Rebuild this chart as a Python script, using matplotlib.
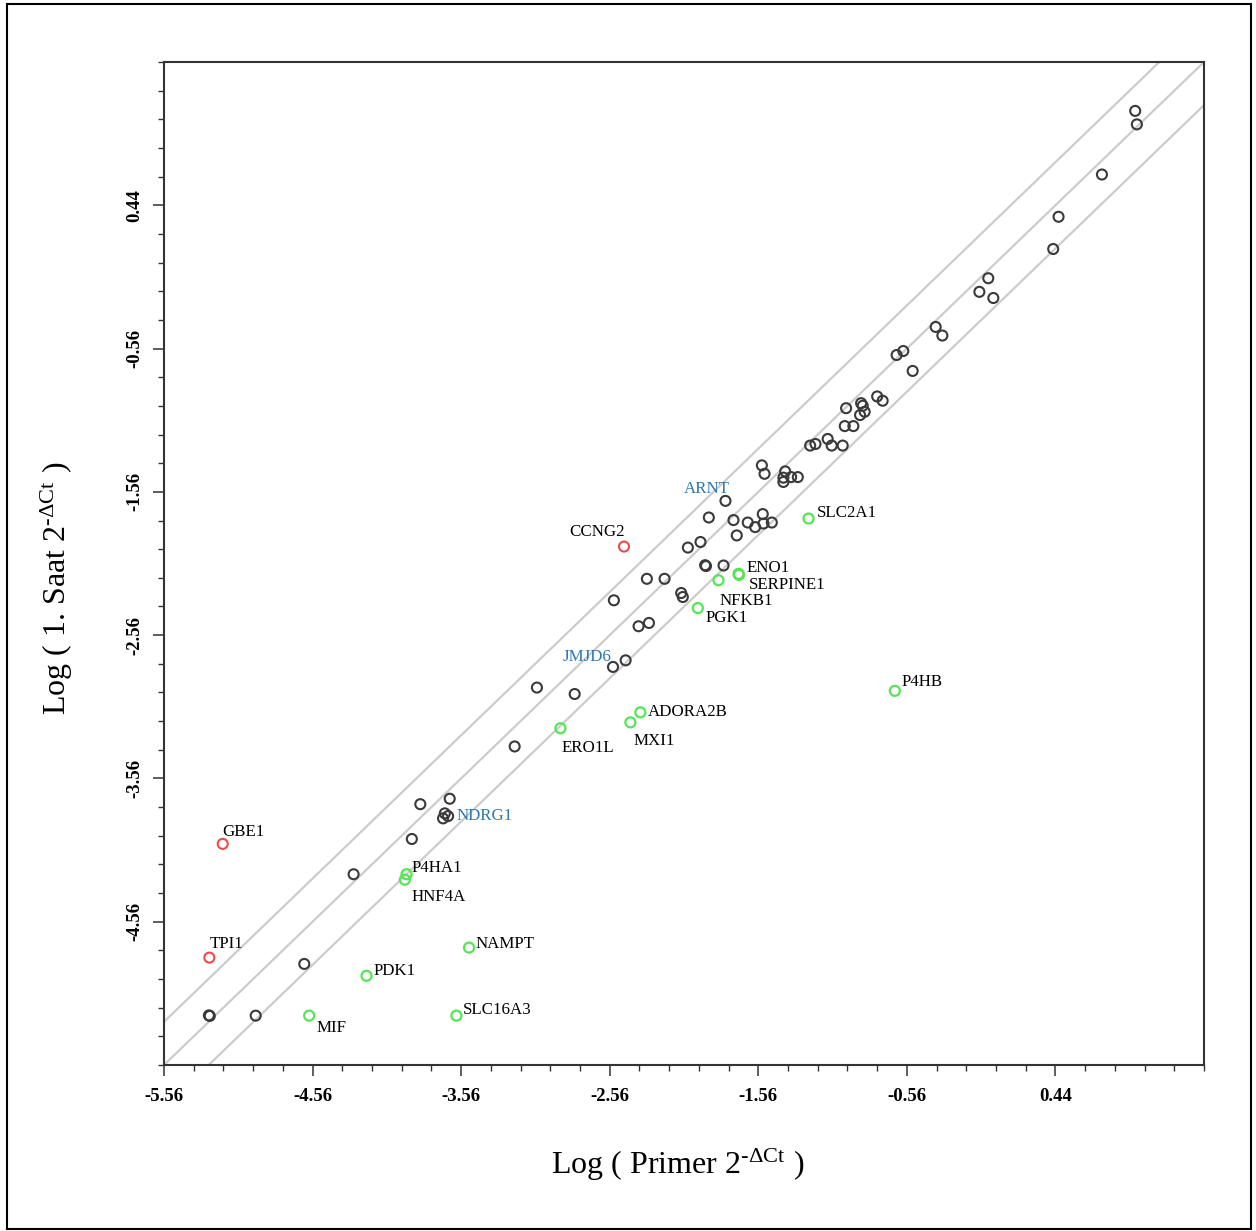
import numpy as np
import matplotlib
matplotlib.use("Agg")
import matplotlib.pyplot as plt
from matplotlib.patches import Rectangle
from matplotlib.ticker import FixedLocator, MultipleLocator


# unlabelled genes (open dark circles)
black_x = [0.977, 0.988, 0.753, 0.461, 0.425, -0.012, -0.072, 0.022, -0.366, -0.321,
           -0.629, -0.584, -0.521, -0.760, -0.723, -0.969, -0.868, -0.857, -0.875, -0.844,
           -0.978, -0.920, -1.093, -1.066, -0.992, -1.211, -1.175, -1.536, -1.518, -1.379,
           -1.391, -1.391, -1.339, -1.294, -1.893, -1.727, -1.631, -1.581, -1.530, -1.525,
           -1.469, -1.705, -1.949, -2.034, -1.918, -1.912, -1.794, -2.310, -2.191, -2.532,
           -2.079, -2.068, -2.366, -2.296, -2.453, -3.050, -2.796, -3.200, -3.637, -3.835,
           -3.670, -3.682, -3.892, -4.284, -4.616, -5.258, -5.252, -4.943]
black_y = [1.099, 1.005, 0.655, 0.360, 0.135, -0.069, -0.164, -0.207, -0.409, -0.469,
           -0.605, -0.577, -0.716, -0.894, -0.924, -0.976, -0.941, -0.959, -1.024, -1.001,
           -1.101, -1.101, -1.191, -1.237, -1.237, -1.237, -1.226, -1.375, -1.434, -1.417,
           -1.461, -1.491, -1.457, -1.457, -1.739, -1.757, -1.774, -1.806, -1.715, -1.781,
           -1.774, -1.864, -1.910, -1.949, -2.072, -2.078, -2.074, -2.167, -2.167, -2.317,
           -2.266, -2.294, -2.498, -2.475, -2.736, -2.926, -2.971, -3.337, -3.702, -3.740,
           -3.804, -3.839, -3.983, -4.229, -4.855, -5.214, -5.218, -5.216]

# labelled genes drawn as dark circles, names in blue
blue_genes = ["ARNT", "JMJD6", "NDRG1"]
blue_x = [-1.781, -2.538, -3.648]
blue_y = [-1.623, -2.782, -3.823]

# up in the 1st hour
red_genes = ["CCNG2", "GBE1", "TPI1"]
red_x = [-2.464, -5.165, -5.255]
red_y = [-1.942, -4.017, -4.811]

# down in the 1st hour
green_genes = ["SLC2A1", "ENO1", "SERPINE1", "NFKB1", "PGK1", "P4HB", "ADORA2B", "MXI1",
               "ERO1L", "P4HA1", "HNF4A", "NAMPT", "PDK1", "MIF", "SLC16A3"]
green_x = [-1.222, -1.693, -1.690, -1.828, -1.967, -0.641, -2.354, -2.421,
           -2.892, -3.928, -3.939, -3.507, -4.197, -4.583, -3.592]
green_y = [-1.746, -2.132, -2.140, -2.177, -2.371, -2.949, -3.099, -3.169,
           -3.210, -4.229, -4.267, -4.741, -4.938, -5.216, -5.216]

x_ticks = [-5.56, -4.56, -3.56, -2.56, -1.56, -0.56, 0.44]
x_tick_labels = ["-5.56", "-4.56", "-3.56", "-2.56", "-1.56", "-0.56", "0.44"]
y_ticks = [-4.56, -3.56, -2.56, -1.56, -0.56, 0.44]
y_tick_labels = ["-4.56", "-3.56", "-2.56", "-1.56", "-0.56", "0.44"]

# label placement: offset in pixels from the point, horizontal alignment
label_pos = {
    "ARNT": (-19, 14, "center"), "JMJD6": (-2, 12, "right"), "NDRG1": (8, 2, "left"),
    "CCNG2": (-27, 17, "center"), "GBE1": (0, 14, "left"), "TPI1": (0, 16, "left"),
    "SLC2A1": (8, 8, "left"), "ENO1": (8, 8, "left"), "SERPINE1": (10, -8, "left"),
    "NFKB1": (1, -19, "left"), "PGK1": (8, -8, "left"), "P4HB": (7, 11, "left"),
    "ADORA2B": (7, 2, "left"), "MXI1": (3, -17, "left"), "ERO1L": (1, -18, "left"),
    "P4HA1": (5, 8, "left"), "HNF4A": (7, -15, "left"), "NAMPT": (7, 6, "left"),
    "PDK1": (7, 7, "left"), "MIF": (7, -10, "left"), "SLC16A3": (6, 8, "left"),
}

plt.rcParams["font.family"] = ["Liberation Serif", "DejaVu Serif"]
plt.rcParams["mathtext.fontset"] = "stix"

fig = plt.figure(figsize=(12.56, 12.31), dpi=100)
ax = fig.add_axes([0.1306, 0.1349, 0.8280, 0.8147])

fig.add_artist(Rectangle((0.0056, 0.0018), 0.9904, 0.9950, transform=fig.transFigure,
                         fill=False, ec="black", lw=1.5))

# 2-fold lines
for off in [np.log10(2), 0.0, -np.log10(2)]:
    ax.axline((0, off), slope=1, color="#cccccc", lw=1.6, zorder=1)

dark = "#3a3a3a"
ax.scatter(black_x, black_y, s=52, facecolors="none", edgecolors=dark, linewidths=1.5, zorder=3)
ax.scatter(blue_x, blue_y, s=52, facecolors="none", edgecolors=dark, linewidths=1.5, zorder=3)
ax.scatter(red_x, red_y, s=52, facecolors="none", edgecolors="#ef4a4a", linewidths=1.5, zorder=3)
ax.scatter(green_x, green_y, s=52, facecolors="none", edgecolors="#55e655", linewidths=1.6, zorder=3)


def put_labels(genes, xs, ys, color):
    for g, x, y in zip(genes, xs, ys):
        dx, dy, ha = label_pos[g]
        ax.annotate(g, (x, y), xytext=(dx, dy), textcoords="offset pixels",
                    ha=ha, va="center_baseline", fontsize=12.2, color=color, zorder=4)


put_labels(blue_genes, blue_x, blue_y, "#2a78b4")
put_labels(red_genes, red_x, red_y, "black")
put_labels(green_genes, green_x, green_y, "black")

ax.set_xlim(-5.56, 1.44)
ax.set_ylim(-5.56, 1.44)

ax.xaxis.set_major_locator(FixedLocator(x_ticks))
ax.yaxis.set_major_locator(FixedLocator(y_ticks))
ax.xaxis.set_minor_locator(MultipleLocator(0.2, offset=0.04))
ax.yaxis.set_minor_locator(MultipleLocator(0.2, offset=0.04))
ax.set_xticklabels(x_tick_labels, fontweight="bold", fontsize=13.5)
ax.set_yticklabels(y_tick_labels, fontweight="bold", fontsize=13.5, rotation=90, va="center")

ax.tick_params(which="major", direction="out", length=7.7, width=1.1, color="#333333")
ax.tick_params(which="minor", direction="out", length=4.5, width=1.0, color="#333333")
ax.tick_params(axis="x", which="major", pad=9)
ax.tick_params(axis="y", which="major", pad=7)

for sp in ax.spines.values():
    sp.set_linewidth(1.5)
    sp.set_color("#333333")

sup = "2$^{\\mathregular{\u2010\\Delta Ct}}$"
ax.set_xlabel("Log ( Primer " + sup + " )", fontsize=23)
ax.set_ylabel("Log ( 1. Saat " + sup + " )", fontsize=23)
ax.xaxis.set_label_coords(0.494, -0.081)
ax.yaxis.set_label_coords(-0.086, 0.475)

fig.savefig("out.png", dpi=100)
